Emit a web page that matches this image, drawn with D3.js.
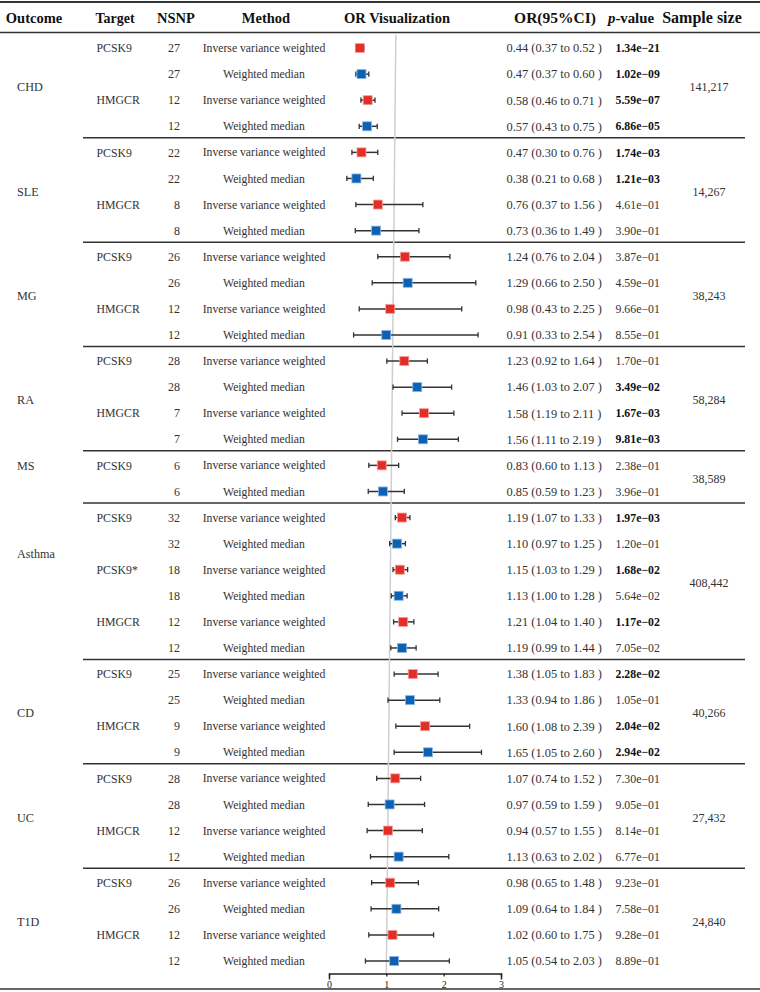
<!DOCTYPE html>
<html>
<head>
<meta charset="utf-8">
<script src="https://cdn.jsdelivr.net/npm/d3@7"></script>
<style>
  html, body { margin: 0; padding: 0; background: #fff; }
  text { font-family: "Liberation Serif", "Times New Roman", serif; }
</style>
</head>
<body>
<script>
// ---------------- DATA ----------------
const outcomes    = ["CHD", "SLE", "MG", "RA", "MS", "Asthma", "CD", "UC", "T1D"];
const groupSizes  = [4, 4, 4, 4, 2, 6, 4, 4, 4];
const sampleSizes = ["141,217", "14,267", "38,243", "58,284", "38,589", "408,442", "40,266", "27,432", "24,840"];
const outcomeLabelRow = [1.5, 1.5, 1.5, 1.5, 0, 1.4, 1.5, 1.5, 1.5];

const targets = [
  "PCSK9", "", "HMGCR", "",
  "PCSK9", "", "HMGCR", "",
  "PCSK9", "", "HMGCR", "",
  "PCSK9", "", "HMGCR", "",
  "PCSK9", "",
  "PCSK9", "", "PCSK9*", "", "HMGCR", "",
  "PCSK9", "", "HMGCR", "",
  "PCSK9", "", "HMGCR", "",
  "PCSK9", "", "HMGCR", ""
];
const nsnp = [
  27, 27, 12, 12,
  22, 22, 8, 8,
  26, 26, 12, 12,
  28, 28, 7, 7,
  6, 6,
  32, 32, 18, 18, 12, 12,
  25, 25, 9, 9,
  28, 28, 12, 12,
  26, 26, 12, 12
];
const methodCodes = [
  "IVW", "WM", "IVW", "WM",
  "IVW", "WM", "IVW", "WM",
  "IVW", "WM", "IVW", "WM",
  "IVW", "WM", "IVW", "WM",
  "IVW", "WM",
  "IVW", "WM", "IVW", "WM", "IVW", "WM",
  "IVW", "WM", "IVW", "WM",
  "IVW", "WM", "IVW", "WM",
  "IVW", "WM", "IVW", "WM"
];
const methodNames = { IVW: "Inverse variance weighted", WM: "Weighted median" };
const orValues = [
  0.44, 0.47, 0.58, 0.57,
  0.47, 0.38, 0.76, 0.73,
  1.24, 1.29, 0.98, 0.91,
  1.23, 1.46, 1.58, 1.56,
  0.83, 0.85,
  1.19, 1.10, 1.15, 1.13, 1.21, 1.19,
  1.38, 1.33, 1.60, 1.65,
  1.07, 0.97, 0.94, 1.13,
  0.98, 1.09, 1.02, 1.05
];
const ciLow = [
  0.37, 0.37, 0.46, 0.43,
  0.30, 0.21, 0.37, 0.36,
  0.76, 0.66, 0.43, 0.33,
  0.92, 1.03, 1.19, 1.11,
  0.60, 0.59,
  1.07, 0.97, 1.03, 1.00, 1.04, 0.99,
  1.05, 0.94, 1.08, 1.05,
  0.74, 0.59, 0.57, 0.63,
  0.65, 0.64, 0.60, 0.54
];
const ciHigh = [
  0.52, 0.60, 0.71, 0.75,
  0.76, 0.68, 1.56, 1.49,
  2.04, 2.50, 2.25, 2.54,
  1.64, 2.07, 2.11, 2.19,
  1.13, 1.23,
  1.33, 1.25, 1.29, 1.28, 1.40, 1.44,
  1.83, 1.86, 2.39, 2.60,
  1.52, 1.59, 1.55, 2.02,
  1.48, 1.84, 1.75, 2.03
];
const pValues = [
  "1.34e-21", "1.02e-09", "5.59e-07", "6.86e-05",
  "1.74e-03", "1.21e-03", "4.61e-01", "3.90e-01",
  "3.87e-01", "4.59e-01", "9.66e-01", "8.55e-01",
  "1.70e-01", "3.49e-02", "1.67e-03", "9.81e-03",
  "2.38e-01", "3.96e-01",
  "1.97e-03", "1.20e-01", "1.68e-02", "5.64e-02", "1.17e-02", "7.05e-02",
  "2.28e-02", "1.05e-01", "2.04e-02", "2.94e-02",
  "7.30e-01", "9.05e-01", "8.14e-01", "6.77e-01",
  "9.23e-01", "7.58e-01", "9.28e-01", "8.89e-01"
];
const axisTicks = [0, 1, 2, 3];
const headers = ["Outcome", "Target", "NSNP", "Method", "OR Visualization", "OR(95%CI)", "p-value", "Sample size"];

// ---------------- LAYOUT ----------------
const W = 760, H = 992;
const nRows = orValues.length;
const y = d3.scaleBand().domain(d3.range(nRows)).range([35, 974]).padding(0);
const yc = i => y(i) + y.bandwidth() / 2;
const x = d3.scaleLinear().domain([0, 3]).range([335, 504]);
const xAxisScale = d3.scaleLinear().domain([0, 3]).range([329, 501]);

const colors = { IVW: "#e52d27", WM: "#0b62b4" };
const strokes = { IVW: "#f3a09c", WM: "#8fb6e2" };

const svg = d3.select("body").append("svg")
  .attr("width", W).attr("height", H)
  .attr("viewBox", `0 0 ${W} ${H}`);

const groupStart = [];
let acc = 0;
groupSizes.forEach(n => { groupStart.push(acc); acc += n; });

// ---------------- LINES ----------------
svg.append("line").attr("x1", 0).attr("x2", W).attr("y1", 2).attr("y2", 2)
  .attr("stroke", "#333").attr("stroke-width", 2);
svg.append("line").attr("x1", 0).attr("x2", W).attr("y1", 32.5).attr("y2", 32.5)
  .attr("stroke", "#333").attr("stroke-width", 1.6);
svg.append("line").attr("x1", 0).attr("x2", W).attr("y1", 989).attr("y2", 989)
  .attr("stroke", "#333").attr("stroke-width", 1.6);

svg.append("g").selectAll("line")
  .data(groupStart.slice(1))
  .join("line")
  .attr("x1", 83).attr("x2", 745)
  .attr("y1", d => y(d) - 1.5).attr("y2", d => y(d) - 1.5)
  .attr("stroke", "#333").attr("stroke-width", 1.5);

// reference line at OR = 1 (slightly slanted like the original)
svg.append("line")
  .attr("x1", x(1) + 4.5).attr("y1", 35)
  .attr("x2", xAxisScale(1)).attr("y2", 973)
  .attr("stroke", "#cfcfcf").attr("stroke-width", 1.5);

// ---------------- HEADERS ----------------
const headerPos = [
  { x: 34, size: 14.5 }, { x: 115, size: 14 }, { x: 176, size: 14.5 }, { x: 266, size: 14.5 },
  { x: 397, size: 14.5 }, { x: 555, size: 15.5 }, { x: 631, size: 14.8 }, { x: 702, size: 16 }
];
const hg = svg.append("g").attr("font-weight", "bold").attr("fill", "#111");
headers.forEach((h, i) => {
  const t = hg.append("text")
    .attr("x", headerPos[i].x).attr("y", 22.5)
    .attr("text-anchor", "middle")
    .attr("font-size", headerPos[i].size);
  if (h === "p-value") {
    t.append("tspan").attr("font-style", "italic").text("p");
    t.append("tspan").text("-value");
  } else {
    t.text(h);
  }
});

// ---------------- GROUP LABELS ----------------
const gl = svg.append("g").attr("fill", "#333").attr("font-size", 12.2);
outcomes.forEach((o, g) => {
  const s = groupStart[g];
  const yy = yc(s) + outcomeLabelRow[g] * y.step();
  gl.append("text").attr("x", 17).attr("y", yy).attr("dy", "0.35em").text(o);
  const yMid = (yc(s) + yc(s + groupSizes[g] - 1)) / 2;
  gl.append("text").attr("x", 709).attr("y", yMid).attr("dy", "0.35em")
    .attr("text-anchor", "middle").attr("font-size", 12).text(sampleSizes[g]);
});

// ---------------- ROW TEXT ----------------
const rows = d3.range(nRows);
const rg = svg.append("g").attr("fill", "#333");

rg.selectAll("text.target").data(rows.filter(i => targets[i] !== ""))
  .join("text").attr("class", "target")
  .attr("x", 96.5).attr("y", i => yc(i)).attr("dy", "0.35em")
  .attr("font-size", 11.8).text(i => targets[i]);

rg.selectAll("text.nsnp").data(rows)
  .join("text").attr("class", "nsnp")
  .attr("x", 180).attr("y", i => yc(i)).attr("dy", "0.35em")
  .attr("text-anchor", "end").attr("font-size", 12).text(i => nsnp[i]);

rg.selectAll("text.method").data(rows)
  .join("text").attr("class", "method")
  .attr("x", 264).attr("y", i => yc(i)).attr("dy", "0.35em")
  .attr("text-anchor", "middle").attr("font-size", 11.7)
  .text(i => methodNames[methodCodes[i]]);

const f2 = d3.format(".2f");
rg.selectAll("text.ci").data(rows)
  .join("text").attr("class", "ci")
  .attr("x", 506.5).attr("y", i => yc(i)).attr("dy", "0.35em")
  .attr("font-size", 12.4)
  .text(i => `${f2(orValues[i])} (${f2(ciLow[i])} to ${f2(ciHigh[i])} )`);

rg.selectAll("text.pv").data(rows)
  .join("text").attr("class", "pv")
  .attr("x", 615.5).attr("y", i => yc(i)).attr("dy", "0.35em")
  .attr("font-size", 11.8)
  .attr("font-weight", i => +pValues[i] < 0.05 ? "bold" : "normal")
  .attr("fill", i => +pValues[i] < 0.05 ? "#111" : "#333")
  .text(i => pValues[i].replace("-", "\u2212"));

// ---------------- FOREST MARKS ----------------
const fg = svg.append("g");
const cap = 2.6;
fg.selectAll("line.ci").data(rows).join("line").attr("class", "ci")
  .attr("x1", i => x(ciLow[i])).attr("x2", i => x(ciHigh[i]))
  .attr("y1", i => yc(i)).attr("y2", i => yc(i))
  .attr("stroke", "#333").attr("stroke-width", 1.5);
fg.selectAll("line.capL").data(rows).join("line").attr("class", "capL")
  .attr("x1", i => x(ciLow[i])).attr("x2", i => x(ciLow[i]))
  .attr("y1", i => yc(i) - cap).attr("y2", i => yc(i) + cap)
  .attr("stroke", "#333").attr("stroke-width", 1.3);
fg.selectAll("line.capR").data(rows).join("line").attr("class", "capR")
  .attr("x1", i => x(ciHigh[i])).attr("x2", i => x(ciHigh[i]))
  .attr("y1", i => yc(i) - cap).attr("y2", i => yc(i) + cap)
  .attr("stroke", "#333").attr("stroke-width", 1.3);
const sq = 9;
fg.selectAll("rect.pt").data(rows).join("rect").attr("class", "pt")
  .attr("x", i => x(orValues[i]) - sq / 2).attr("y", i => yc(i) - sq / 2)
  .attr("width", sq).attr("height", sq)
  .attr("fill", i => colors[methodCodes[i]])
  .attr("stroke", i => strokes[methodCodes[i]]).attr("stroke-width", 0.8);

// ---------------- AXIS ----------------
const axis = d3.axisBottom(xAxisScale).tickValues(axisTicks)
  .tickSizeInner(3).tickSizeOuter(6).tickPadding(4).tickFormat(d3.format("d"));
const ag = svg.append("g").attr("transform", "translate(0,973.5)").call(axis);
ag.select(".domain").attr("stroke", "#222").attr("stroke-width", 1.5);
ag.selectAll(".tick line").attr("stroke", "#222").attr("stroke-width", 1.3);
ag.selectAll(".tick text").attr("font-family", "Liberation Serif, serif")
  .attr("font-size", 10).attr("fill", "#222");
</script>
</body>
</html>
